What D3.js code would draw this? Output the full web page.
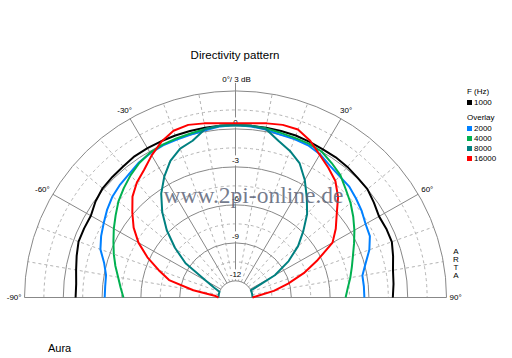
<!DOCTYPE html>
<html>
<head>
<meta charset="utf-8">
<script src="https://cdn.jsdelivr.net/npm/d3@7"></script>
<style>
  body { margin: 0; background: #fff; }
  text { font-family: "Liberation Sans", Arial, sans-serif; }
</style>
</head>
<body>
<div id="chart"></div>
<script>
// angles in degrees, 0 = on axis, values in dB
var angles = [-90,-85,-80,-75,-70,-65,-60,-55,-50,-45,-40,-35,-30,-25,-20,-15,-10,-5,0,
              5,10,15,20,25,30,35,40,45,50,55,60,65,70,75,80,85,90];

var f1000  = [-0.95,-0.95,-0.8,-0.6,-0.4,-0.4,-0.4,-0.1,0.1,0.15,0.2,0.3,0.3,0.3,0.3,0.3,0.3,0.3,0.3,
              0.3,0.3,0.3,0.3,0.25,0.2,0.2,0.15,0.05,0,-0.25,-0.5,-0.45,-0.45,-0.7,-0.95,-1.05,-1.15];
var f2000  = [-3.2,-3.2,-3.15,-2.8,-2.2,-1.85,-1.55,-1.2,-0.9,-0.7,-0.55,-0.3,-0.15,-0.05,-0.05,0,0.1,0.25,0.3,
              0.25,0.15,0,0,-0.05,-0.25,-0.6,-0.8,-0.9,-1.15,-1.4,-1.7,-1.85,-2.3,-2.9,-3.35,-3.35,-3.35];
var f4000  = [-4.65,-4.4,-4.1,-3.7,-3.3,-2.9,-2.45,-2.0,-1.5,-1.1,-0.7,-0.35,-0.1,0,0.05,0.1,0.2,0.3,0.3,
              0.3,0.25,0.15,0.1,0.1,0,-0.35,-0.7,-1.25,-1.7,-2.2,-2.7,-3.2,-3.65,-4.0,-4.3,-4.6,-4.8];
var f8000  = [-12,-12,-12,-12,-12,-11.5,-10.7,-8.6,-7.2,-5.8,-4.5,-3.3,-2.3,-1.4,-0.8,-0.5,0.2,0.3,0.3,
              0.3,0.2,-0.5,-1.0,-1.6,-2.6,-3.7,-4.7,-5.9,-7.0,-8.3,-9.8,-12,-12,-12,-12,-12,-12];
var f16000 = [-12,-11.7,-10.0,-8.0,-7.0,-5.8,-4.65,-3.7,-2.9,-2.05,-1.45,-1.0,-0.35,0.25,0.7,0.8,0.65,0.5,0.45,
              0.5,0.65,0.8,0.8,0.35,-0.3,-0.8,-1.3,-2.1,-3.1,-3.85,-4.65,-6.3,-7.7,-9.1,-10.3,-11.5,-12];

var mainName = "1000";
var overlayNames = ["2000", "4000", "8000", "16000"];
var colors = {"1000": "#000000", "2000": "#0080ff", "4000": "#00b050", "8000": "#008080", "16000": "#ff0000"};
var series = [
  {name: "1000", values: f1000},
  {name: "2000", values: f2000},
  {name: "4000", values: f4000},
  {name: "8000", values: f8000},
  {name: "16000", values: f16000}
];

var dbTicks = [0, -3, -6, -9, -12];
var solidRings = [3, 0, -3, -6, -9, -12];
var dashedRings = [1.5, -1.5, -4.5, -7.5, -10.5];
var angleLabels = [-90, -60, -30, 30, 60, 90];

var width = 512, height = 358;
var cx = 235.5, cy = 297.5, ky = 0.979;

var svg = d3.select("#chart").append("svg")
  .attr("width", width).attr("height", height)
  .style("background", "#fff");

var r = d3.scaleLinear().domain([-12, 3]).range([17, 211]);
var rad = function (a) { return a * Math.PI / 180; };
var pt = function (a, db) {
  return [cx + r(db) * Math.sin(rad(a)), cy - ky * r(db) * Math.cos(rad(a))];
};

// plot group, slightly squashed vertically like the original
var g = svg.append("g").attr("transform", "translate(" + cx + "," + cy + ") scale(1," + ky + ")");

function halfRing(db) {
  var p = d3.path();
  p.arc(0, 0, r(db), -Math.PI, 0);
  return p.toString();
}

g.selectAll("path.dring").data(dashedRings).enter().append("path")
  .attr("d", halfRing).attr("fill", "none")
  .attr("stroke", "#b4b4b4").attr("stroke-dasharray", "3,3")
  .attr("vector-effect", "non-scaling-stroke");

var dashedSpokes = d3.range(-80, 90, 10).filter(function (a) { return a % 30 !== 0; });
g.selectAll("line.dspoke").data(dashedSpokes).enter().append("line")
  .attr("x1", function (a) { return r(-12) * Math.sin(rad(a)); })
  .attr("y1", function (a) { return -r(-12) * Math.cos(rad(a)); })
  .attr("x2", function (a) { return r(3) * Math.sin(rad(a)); })
  .attr("y2", function (a) { return -r(3) * Math.cos(rad(a)); })
  .attr("stroke", "#b4b4b4").attr("stroke-dasharray", "3,3")
  .attr("vector-effect", "non-scaling-stroke");

g.selectAll("path.sring").data(solidRings).enter().append("path")
  .attr("d", halfRing).attr("fill", "none")
  .attr("stroke", "#888").attr("vector-effect", "non-scaling-stroke");

g.selectAll("line.sspoke").data([-60, -30, 0, 30, 60]).enter().append("line")
  .attr("x1", function (a) { return r(-12) * Math.sin(rad(a)); })
  .attr("y1", function (a) { return -r(-12) * Math.cos(rad(a)); })
  .attr("x2", function (a) { return r(3) * Math.sin(rad(a)); })
  .attr("y2", function (a) { return -r(3) * Math.cos(rad(a)); })
  .attr("stroke", "#888").attr("vector-effect", "non-scaling-stroke");

// baseline -90 .. 90
g.append("line").attr("x1", -r(3)).attr("x2", r(3)).attr("y1", 0).attr("y2", 0)
  .attr("stroke", "#888").attr("vector-effect", "non-scaling-stroke");

// 0 deg line up to the label
var topPt = pt(0, 3);
svg.append("line").attr("x1", cx).attr("x2", cx).attr("y1", topPt[1]).attr("y2", topPt[1] - 8)
  .attr("stroke", "#888");
svg.append("text").attr("x", cx + 1).attr("y", topPt[1] - 11).attr("text-anchor", "middle")
  .attr("dominant-baseline", "central").attr("font-size", "8px").text("0°/ 3 dB");

// dB labels with white background (under the curves)
var dbl = svg.selectAll("g.dbl").data(dbTicks).enter().append("g")
  .attr("transform", function (d) { return "translate(" + cx + "," + (pt(0, d)[1] - 6.5) + ")"; });
dbl.append("rect")
  .attr("x", function (d) { return d === 0 ? -3 : -6.5; })
  .attr("width", function (d) { return d === 0 ? 6 : 13; })
  .attr("y", -5).attr("height", 10).attr("fill", "#fff");
dbl.append("text").attr("text-anchor", "middle").attr("dominant-baseline", "central")
  .attr("font-size", "8px").text(function (d) { return d; });

// curves
var line = d3.lineRadial()
  .angle(function (d) { return rad(d[0]); })
  .radius(function (d) { return r(d[1]); });

var cg = svg.append("g").attr("transform", "translate(" + cx + "," + cy + ") scale(1," + ky + ")");
cg.selectAll("path.curve").data(series).enter().append("path")
  .attr("d", function (s) { return line(angles.map(function (a, i) { return [a, s.values[i]]; })); })
  .attr("fill", "none")
  .attr("stroke", function (s) { return colors[s.name]; })
  .attr("stroke-width", 2)
  .attr("stroke-linejoin", "round")
  .attr("vector-effect", "non-scaling-stroke");

// angle labels
var offs = {"-90": [-3, 0], "-60": [-3, -5], "-30": [2, -8], "30": [-1, -8], "60": [3, -5], "90": [3, 0]};
svg.selectAll("text.al").data(angleLabels).enter().append("text")
  .attr("x", function (a) { return pt(a, 3)[0] + offs[a][0]; })
  .attr("y", function (a) { return pt(a, 3)[1] + offs[a][1]; })
  .attr("text-anchor", function (a) { return a < 0 ? "end" : "start"; })
  .attr("dominant-baseline", "central")
  .attr("font-size", "8px")
  .text(function (a) { return a + "°"; });

// title
svg.append("text").attr("x", 235).attr("y", 55).attr("text-anchor", "middle")
  .attr("dominant-baseline", "central").attr("font-size", "11.5px").text("Directivity pattern");

// legend
var lg = svg.append("g").attr("transform", "translate(467,0)");
lg.append("text").attr("x", 0).attr("y", 91).attr("dominant-baseline", "central")
  .attr("font-size", "8px").text("F (Hz)");
var legendItems = [{name: mainName, y: 102}].concat(overlayNames.map(function (n, i) {
  return {name: n, y: 128 + i * 10};
}));
lg.append("text").attr("x", 0).attr("y", 117).attr("dominant-baseline", "central")
  .attr("font-size", "8px").text("Overlay");
var li = lg.selectAll("g.li").data(legendItems).enter().append("g")
  .attr("transform", function (d) { return "translate(0," + d.y + ")"; });
li.append("rect").attr("x", 0).attr("y", -2).attr("width", 5).attr("height", 5)
  .attr("fill", function (d) { return colors[d.name]; });
li.append("text").attr("x", 7).attr("y", 0).attr("dominant-baseline", "central")
  .attr("font-size", "8px").text(function (d) { return d.name; });

// ARTA mark
svg.selectAll("text.arta").data(["A", "R", "T", "A"]).enter().append("text")
  .attr("x", 456).attr("y", function (d, i) { return 251 + i * 8; })
  .attr("text-anchor", "middle").attr("dominant-baseline", "central")
  .attr("font-size", "8px").text(function (d) { return d; });

svg.append("text").attr("x", 48).attr("y", 348).attr("dominant-baseline", "central")
  .attr("font-size", "11px").text("Aura");

// watermark
svg.append("text").attr("x", 253.5).attr("y", 203).attr("text-anchor", "middle")
  .style("font-family", "'Liberation Serif', 'Times New Roman', serif")
  .attr("font-size", "23.5px").attr("fill", "#5c6478").attr("fill-opacity", 0.85)
  .text("www.2pi-online.de");
</script>
</body>
</html>
